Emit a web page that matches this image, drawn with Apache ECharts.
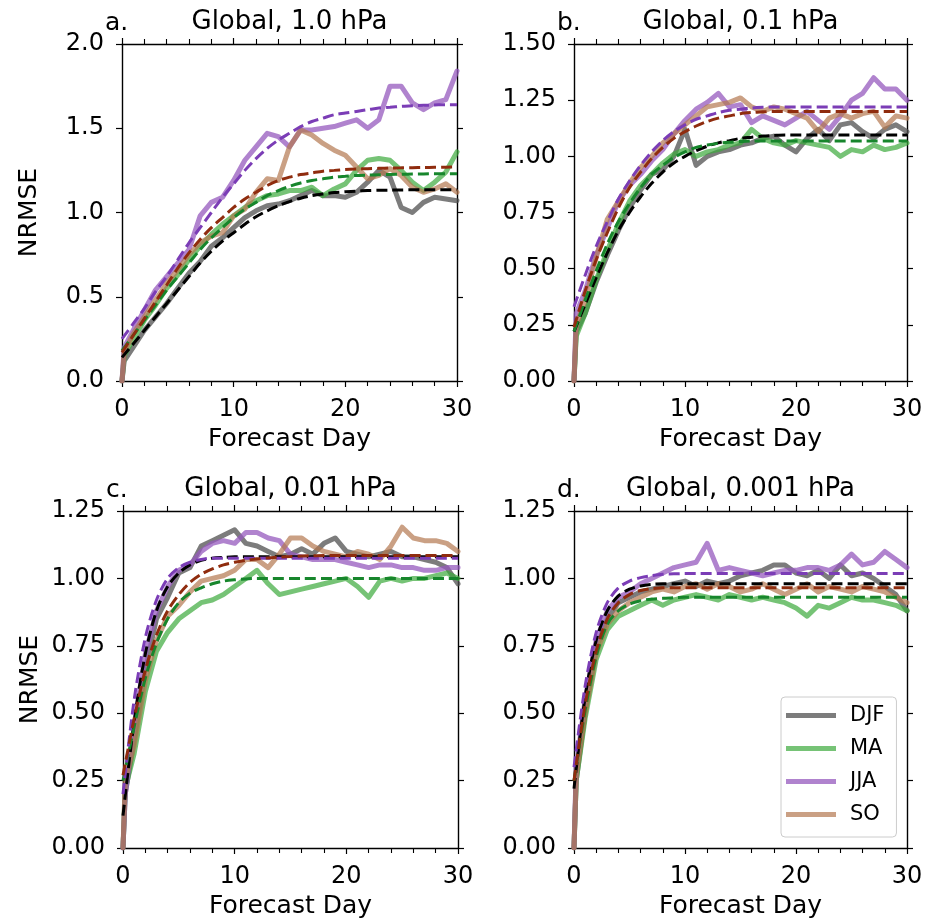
<!DOCTYPE html>
<html>
<head>
<meta charset="utf-8">
<script src="https://cdn.jsdelivr.net/npm/echarts@6/dist/echarts.min.js"></script>
<style>
html,body{margin:0;padding:0;background:#fff;}
#chart{width:930px;height:922px;}
</style>
</head>
<body>
<div id="chart"></div>
<script>
// ---------- DATA ----------
const seasons = ['DJF', 'MA', 'JJA', 'SO'];
const obsDays = [0,0.2,1,2,3,4,5,6,7,8,9,10,11,12,13,14,15,16,17,18,19,20,21,22,23,24,25,26,27,28,29,30];
const fitDays = [0,1,2,3,4,5,6,7,8,9,10,11,12,13,14,15,16,17,18,19,20,21,22,23,24,25,26,27,28,29,30];

const xTicks = ['0', '10', '20', '30'];
const yTicksA = ['0.0', '0.5', '1.0', '1.5', '2.0'];
const yTicksB = ['0.00', '0.25', '0.50', '0.75', '1.00', '1.25', '1.50'];
const yTicksC = ['0.00', '0.25', '0.50', '0.75', '1.00', '1.25'];
const yTicksD = ['0.00', '0.25', '0.50', '0.75', '1.00', '1.25'];

const titles = ['Global, 1.0 hPa', 'Global, 0.1 hPa', 'Global, 0.01 hPa', 'Global, 0.001 hPa'];
const letters = ['a.', 'b.', 'c.', 'd.'];

// Panel a: 1.0 hPa
const obsA_DJF = [0,0.12,0.20,0.30,0.38,0.46,0.55,0.64,0.71,0.80,0.85,0.91,0.97,1.01,1.04,1.05,1.07,1.10,1.13,1.10,1.10,1.09,1.12,1.18,1.25,1.21,1.03,1.00,1.06,1.09,1.08,1.07];
const obsA_MA  = [0,0.15,0.25,0.36,0.45,0.55,0.63,0.72,0.80,0.87,0.93,0.98,1.03,1.07,1.10,1.11,1.13,1.13,1.15,1.10,1.14,1.17,1.25,1.31,1.32,1.31,1.25,1.18,1.13,1.18,1.24,1.36];
const obsA_JJA = [0,0.20,0.30,0.42,0.54,0.62,0.70,0.78,0.98,1.06,1.09,1.19,1.31,1.39,1.47,1.45,1.39,1.49,1.49,1.50,1.51,1.53,1.55,1.50,1.55,1.75,1.75,1.65,1.61,1.65,1.67,1.84];
const obsA_SO  = [0,0.17,0.28,0.38,0.48,0.58,0.66,0.75,0.82,0.86,0.88,0.98,1.02,1.12,1.20,1.19,1.39,1.49,1.46,1.41,1.37,1.34,1.27,1.20,1.22,1.26,1.22,1.15,1.12,1.14,1.17,1.12];
const fitA_DJF = [0.14,0.22,0.30,0.38,0.46,0.54,0.62,0.70,0.77,0.83,0.88,0.93,0.975,1.01,1.04,1.065,1.085,1.10,1.11,1.118,1.123,1.127,1.13,1.132,1.133,1.134,1.135,1.135,1.135,1.135,1.135];
const fitA_MA  = [0.18,0.27,0.36,0.45,0.54,0.62,0.70,0.78,0.85,0.91,0.97,1.02,1.06,1.10,1.13,1.155,1.175,1.19,1.20,1.21,1.215,1.22,1.222,1.224,1.226,1.227,1.228,1.229,1.23,1.23,1.23];
const fitA_JJA = [0.25,0.34,0.43,0.53,0.62,0.72,0.82,0.91,1.00,1.09,1.17,1.25,1.32,1.38,1.43,1.47,1.51,1.54,1.56,1.58,1.59,1.60,1.61,1.62,1.625,1.63,1.633,1.636,1.638,1.64,1.64];
const fitA_SO  = [0.17,0.27,0.37,0.47,0.57,0.67,0.76,0.84,0.91,0.97,1.03,1.08,1.12,1.16,1.19,1.21,1.225,1.235,1.245,1.25,1.255,1.258,1.26,1.262,1.264,1.265,1.266,1.267,1.268,1.269,1.27];

// Panel b: 0.1 hPa
const obsB_DJF = [0,0.22,0.30,0.44,0.56,0.67,0.77,0.85,0.92,0.94,1.00,1.12,0.96,1.00,1.02,1.03,1.05,1.06,1.08,1.09,1.05,1.02,1.08,1.12,1.07,1.14,1.15,1.11,1.08,1.12,1.14,1.11];
const obsB_MA  = [0,0.20,0.30,0.45,0.58,0.70,0.80,0.87,0.92,0.97,1.01,1.03,1.00,1.02,1.03,1.05,1.06,1.12,1.08,1.06,1.05,1.07,1.06,1.05,1.04,1.00,1.03,1.02,1.05,1.03,1.04,1.06];
const obsB_JJA = [0,0.30,0.40,0.56,0.68,0.80,0.87,0.92,0.98,1.03,1.10,1.16,1.21,1.24,1.28,1.22,1.23,1.15,1.18,1.16,1.14,1.17,1.20,1.16,1.12,1.18,1.25,1.28,1.35,1.30,1.30,1.25];
const obsB_SO  = [0,0.25,0.36,0.55,0.72,0.80,0.88,0.95,1.00,1.06,1.10,1.14,1.18,1.22,1.23,1.24,1.26,1.22,1.20,1.22,1.21,1.19,1.17,1.11,1.17,1.19,1.17,1.19,1.20,1.13,1.18,1.17];
const fitB_DJF = [0.22,0.34,0.46,0.57,0.67,0.75,0.82,0.88,0.93,0.97,1.00,1.025,1.045,1.06,1.07,1.08,1.085,1.09,1.093,1.095,1.095,1.095,1.095,1.095,1.095,1.095,1.095,1.095,1.095,1.095,1.095];
const fitB_MA  = [0.22,0.36,0.49,0.61,0.71,0.79,0.86,0.92,0.96,0.995,1.02,1.04,1.05,1.058,1.063,1.066,1.068,1.068,1.068,1.068,1.068,1.068,1.068,1.068,1.068,1.068,1.068,1.068,1.068,1.068,1.068];
const fitB_JJA = [0.33,0.47,0.60,0.71,0.81,0.89,0.96,1.02,1.07,1.11,1.14,1.165,1.18,1.195,1.205,1.21,1.215,1.218,1.22,1.22,1.22,1.22,1.22,1.22,1.22,1.22,1.22,1.22,1.22,1.22,1.22];
const fitB_SO  = [0.24,0.40,0.54,0.66,0.77,0.86,0.93,0.99,1.04,1.08,1.11,1.135,1.155,1.17,1.18,1.19,1.195,1.198,1.20,1.20,1.20,1.20,1.20,1.20,1.20,1.20,1.20,1.20,1.20,1.20,1.20];

// Panel c: 0.01 hPa
const obsC_DJF = [0,0.20,0.40,0.66,0.85,0.93,1.02,1.04,1.12,1.14,1.16,1.18,1.13,1.12,1.10,1.08,1.09,1.11,1.09,1.13,1.15,1.10,1.09,1.08,1.09,1.10,1.08,1.08,1.07,1.06,1.04,0.98];
const obsC_MA  = [0,0.22,0.35,0.58,0.73,0.80,0.85,0.88,0.91,0.92,0.94,0.97,1.00,1.03,0.98,0.94,0.95,0.96,0.97,0.98,0.99,1.00,0.97,0.93,0.99,1.00,0.99,1.00,1.00,1.01,1.02,1.00];
const obsC_JJA = [0,0.20,0.45,0.72,0.88,0.97,1.03,1.05,1.10,1.13,1.14,1.13,1.17,1.17,1.15,1.14,1.09,1.08,1.07,1.07,1.07,1.06,1.05,1.04,1.05,1.05,1.04,1.04,1.03,1.03,1.04,1.04];
const obsC_SO  = [0,0.25,0.38,0.62,0.77,0.86,0.90,0.95,0.99,1.00,1.01,1.03,1.07,1.07,1.04,1.09,1.15,1.15,1.12,1.10,1.09,1.08,1.10,1.09,1.07,1.12,1.19,1.15,1.14,1.14,1.13,1.10];
const fitC_DJF = [0.12,0.47,0.72,0.88,0.97,1.02,1.05,1.067,1.075,1.078,1.08,1.08,1.08,1.08,1.08,1.08,1.08,1.08,1.08,1.08,1.08,1.08,1.08,1.08,1.08,1.08,1.08,1.08,1.08,1.08,1.08];
const fitC_MA  = [0.25,0.45,0.63,0.76,0.85,0.91,0.945,0.965,0.98,0.99,0.995,0.998,1.0,1.0,1.0,1.0,1.0,1.0,1.0,1.0,1.0,1.0,1.0,1.0,1.0,1.0,1.0,1.0,1.0,1.0,1.0];
const fitC_JJA = [0.20,0.55,0.78,0.92,1.00,1.04,1.06,1.07,1.075,1.075,1.075,1.075,1.075,1.075,1.075,1.075,1.075,1.075,1.075,1.075,1.075,1.075,1.075,1.075,1.075,1.075,1.075,1.075,1.075,1.075,1.075];
const fitC_SO  = [0.27,0.48,0.66,0.79,0.88,0.94,0.985,1.015,1.035,1.05,1.06,1.067,1.072,1.076,1.079,1.081,1.083,1.084,1.085,1.085,1.085,1.085,1.085,1.085,1.085,1.085,1.085,1.085,1.085,1.085,1.085];

// Panel d: 0.001 hPa
const obsD_DJF = [0,0.25,0.50,0.74,0.85,0.91,0.93,0.95,0.96,0.97,0.98,0.99,0.97,0.99,0.98,0.99,1.01,1.02,1.03,1.05,1.05,1.02,1.01,1.03,1.00,1.05,1.01,1.02,1.00,0.97,0.94,0.88];
const obsD_MA  = [0,0.25,0.48,0.70,0.81,0.86,0.88,0.90,0.92,0.90,0.92,0.93,0.94,0.93,0.92,0.94,0.93,0.92,0.93,0.92,0.91,0.89,0.86,0.90,0.89,0.91,0.93,0.92,0.92,0.91,0.90,0.88];
const obsD_JJA = [0,0.30,0.55,0.77,0.88,0.93,0.95,0.98,1.00,1.02,1.04,1.05,1.06,1.13,1.03,1.04,1.03,1.02,1.01,1.02,1.03,1.03,1.04,1.04,1.03,1.05,1.09,1.05,1.06,1.10,1.07,1.04];
const obsD_SO  = [0,0.27,0.50,0.72,0.83,0.88,0.91,0.93,0.95,0.96,0.95,0.97,0.98,0.96,0.98,0.97,0.95,0.96,0.98,0.96,0.94,0.96,0.98,0.95,0.97,0.96,0.95,0.97,0.96,0.95,0.93,0.91];
const fitD_DJF = [0.22,0.56,0.77,0.88,0.935,0.96,0.972,0.978,0.98,0.98,0.98,0.98,0.98,0.98,0.98,0.98,0.98,0.98,0.98,0.98,0.98,0.98,0.98,0.98,0.98,0.98,0.98,0.98,0.98,0.98,0.98];
const fitD_MA  = [0.25,0.51,0.71,0.83,0.88,0.905,0.917,0.923,0.926,0.928,0.93,0.93,0.93,0.93,0.93,0.93,0.93,0.93,0.93,0.93,0.93,0.93,0.93,0.93,0.93,0.93,0.93,0.93,0.93,0.93,0.93];
const fitD_JJA = [0.30,0.60,0.80,0.91,0.965,0.99,1.003,1.01,1.015,1.017,1.018,1.018,1.018,1.018,1.018,1.018,1.018,1.018,1.018,1.018,1.018,1.018,1.018,1.018,1.018,1.018,1.018,1.018,1.018,1.018,1.018];
const fitD_SO  = [0.25,0.53,0.73,0.85,0.91,0.94,0.955,0.962,0.965,0.965,0.965,0.965,0.965,0.965,0.965,0.965,0.965,0.965,0.965,0.965,0.965,0.965,0.965,0.965,0.965,0.965,0.965,0.965,0.965,0.965,0.965];

// ---------- LAYOUT / STYLE ----------
const FONT = 'DejaVu Sans';
const panels = [
  { obs: [obsA_DJF, obsA_MA, obsA_JJA, obsA_SO], fit: [fitA_DJF, fitA_MA, fitA_JJA, fitA_SO], yMax: 2.0, yInt: 0.5, yLabels: yTicksA,
    grid: { left: 122, top: 44, width: 335, height: 337 }, ylabel: true },
  { obs: [obsB_DJF, obsB_MA, obsB_JJA, obsB_SO], fit: [fitB_DJF, fitB_MA, fitB_JJA, fitB_SO], yMax: 1.5, yInt: 0.25, yLabels: yTicksB,
    grid: { left: 574, top: 44, width: 333, height: 337 }, ylabel: false },
  { obs: [obsC_DJF, obsC_MA, obsC_JJA, obsC_SO], fit: [fitC_DJF, fitC_MA, fitC_JJA, fitC_SO], yMax: 1.25, yInt: 0.25, yLabels: yTicksC,
    grid: { left: 123, top: 511, width: 335, height: 337 }, ylabel: true },
  { obs: [obsD_DJF, obsD_MA, obsD_JJA, obsD_SO], fit: [fitD_DJF, fitD_MA, fitD_JJA, fitD_SO], yMax: 1.25, yInt: 0.25, yLabels: yTicksD,
    grid: { left: 574, top: 511, width: 333, height: 337 }, ylabel: false }
];
const obsColors = ['rgba(80,80,80,0.75)', 'rgba(60,170,60,0.70)', 'rgba(150,90,190,0.75)', 'rgba(180,120,80,0.70)'];
const fitColors = ['#000000', '#17862c', '#7b3db6', '#8f2c0e'];

const grids = [], xAxes = [], yAxes = [], series = [], graphics = [];
const axisLine = { show: true, onZero: false, lineStyle: { color: '#000', width: 1.4 } };
const tick = { show: true, inside: false, length: 6, lineStyle: { color: '#000', width: 1.2 } };
const minor = { show: true, splitNumber: 5, length: 5, lineStyle: { color: '#000', width: 1.1 } };

panels.forEach((p, i) => {
  grids.push(Object.assign({ containLabel: false }, p.grid));
  // bottom x
  xAxes.push({
    gridIndex: i, type: 'value', position: 'bottom', min: 0, max: 30, interval: 10,
    axisLine, axisTick: tick, minorTick: minor, splitLine: { show: false },
    axisLabel: { show: true, margin: 17, fontSize: 24, color: '#000', fontFamily: FONT,
      formatter: v => xTicks[Math.round(v / 10)] },
    name: 'Forecast Day', nameLocation: 'middle', nameGap: 46,
    nameTextStyle: { fontSize: 25, color: '#000', fontFamily: FONT }
  });
  // top x (mirror)
  xAxes.push({
    gridIndex: i, type: 'value', position: 'top', min: 0, max: 30, interval: 10,
    axisLine, axisTick: tick, minorTick: minor, splitLine: { show: false },
    axisLabel: { show: false }
  });
  // left y
  yAxes.push({
    gridIndex: i, type: 'value', position: 'left', min: 0, max: p.yMax, interval: p.yInt,
    axisLine, axisTick: tick, splitLine: { show: false },
    axisLabel: { show: true, margin: 18, fontSize: 24, color: '#000', fontFamily: FONT,
      formatter: v => p.yLabels[Math.round(v / p.yInt)] },
    name: p.ylabel ? 'NRMSE' : '', nameLocation: 'middle', nameGap: 80,
    nameTextStyle: { fontSize: 25, color: '#000', fontFamily: FONT }
  });
  // right y (mirror)
  yAxes.push({
    gridIndex: i, type: 'value', position: 'right', min: 0, max: p.yMax, interval: p.yInt,
    axisLine, axisTick: tick, splitLine: { show: false }, axisLabel: { show: false }
  });

  p.obs.forEach((arr, k) => {
    series.push({
      type: 'line', name: seasons[k], xAxisIndex: 2 * i, yAxisIndex: 2 * i,
      data: obsDays.map((d, j) => [d, arr[j]]),
      showSymbol: false, symbol: 'none', smooth: false, z: 2,
      itemStyle: { color: obsColors[k] },
      lineStyle: { color: obsColors[k], width: 5, cap: 'round', join: 'round' }
    });
  });
  p.fit.forEach((arr, k) => {
    series.push({
      type: 'line', name: seasons[k] + ' fit', xAxisIndex: 2 * i, yAxisIndex: 2 * i,
      data: fitDays.map((d, j) => [d, arr[j]]),
      showSymbol: false, symbol: 'none', smooth: 0.3, z: 3,
      itemStyle: { color: fitColors[k] },
      lineStyle: { color: fitColors[k], width: 3, type: [11, 5] }
    });
  });

  const cx = p.grid.left + p.grid.width / 2;
  const ty = p.grid.top - 22;
  graphics.push({ type: 'text', x: cx, y: ty, style: { text: titles[i], font: '26px "' + FONT + '"', fill: '#000', textAlign: 'center', textVerticalAlign: 'middle' } });
  graphics.push({ type: 'text', x: p.grid.left - 17, y: ty + 1, style: { text: letters[i], font: '25px "' + FONT + '"', fill: '#000', textAlign: 'left', textVerticalAlign: 'middle' } });
});

const chart = echarts.init(document.getElementById('chart'), null, { renderer: 'canvas' });
chart.setOption({
  animation: false,
  backgroundColor: '#fff',
  textStyle: { fontFamily: FONT },
  grid: grids,
  xAxis: xAxes,
  yAxis: yAxes,
  series: series,
  graphic: graphics,
  legend: {
    data: seasons, orient: 'vertical', left: 781, top: 697,
    icon: 'rect', itemWidth: 50, itemHeight: 5, itemGap: 12,
    padding: [8, 12, 12, 5],
    backgroundColor: 'rgba(255,255,255,0.85)', borderColor: '#cccccc', borderWidth: 1, borderRadius: 4,
    textStyle: { fontSize: 21, color: '#000', fontFamily: FONT, padding: [0, 0, 0, 9] },
    selectedMode: false
  }
});
</script>
</body>
</html>
